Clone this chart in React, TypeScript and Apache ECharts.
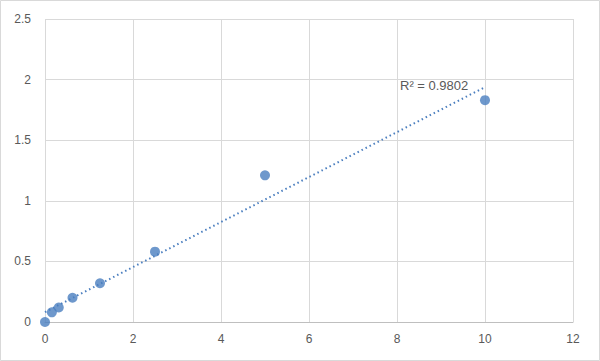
import React, { useEffect, useRef } from "react";
import * as echarts from "echarts";

const concentrations = [0, 0.156, 0.3125, 0.625, 1.25, 2.5, 5, 10];
const absorbances = [0, 0.08, 0.12, 0.2, 0.32, 0.58, 1.21, 1.83];
const xTicks = { min: 0, max: 12, interval: 2 };
const yTicks = { min: 0, max: 2.5, interval: 0.5 };
const rSquaredLabel = "R² = 0.9802";

function linearFit(xs: number[], ys: number[]) {
  const n = xs.length;
  const mx = xs.reduce((a, b) => a + b, 0) / n;
  const my = ys.reduce((a, b) => a + b, 0) / n;
  let sxy = 0;
  let sxx = 0;
  for (let i = 0; i < n; i++) {
    sxy += (xs[i] - mx) * (ys[i] - my);
    sxx += (xs[i] - mx) * (xs[i] - mx);
  }
  const slope = sxy / sxx;
  return { slope, intercept: my - slope * mx };
}

export default function App() {
  const ref = useRef<HTMLDivElement>(null);
  useEffect(() => {
    document.body.style.margin = "0";
    if (!ref.current) return;
    const chart = echarts.init(ref.current, undefined, { renderer: "svg" });
    const fit = linearFit(concentrations, absorbances);
    const xStart = concentrations[0];
    const xEnd = concentrations[concentrations.length - 1];
    const trend = [
      [xStart, fit.intercept + fit.slope * xStart],
      [xEnd, fit.intercept + fit.slope * xEnd],
    ];
    const color = "#4a7ebf";
    const labelStyle = { color: "#595959", fontSize: 12, fontFamily: "Liberation Sans" };
    chart.setOption({
      animation: false,
      backgroundColor: "#ffffff",
      grid: { left: 45, right: 27, top: 19, bottom: 39, containLabel: false },
      xAxis: {
        type: "value",
        min: xTicks.min,
        max: xTicks.max,
        interval: xTicks.interval,
        axisLine: { show: true, lineStyle: { color: "#bfbfbf", width: 1 } },
        axisTick: { show: false },
        axisLabel: { ...labelStyle, margin: 11 },
        splitLine: { show: true, lineStyle: { color: "#d9d9d9", width: 1 } },
      },
      yAxis: {
        type: "value",
        min: yTicks.min,
        max: yTicks.max,
        interval: yTicks.interval,
        axisLine: { show: false },
        axisTick: { show: false },
        axisLabel: { ...labelStyle, margin: 14 },
        splitLine: { show: true, lineStyle: { color: "#d9d9d9", width: 1 } },
      },
      graphic: [
        {
          type: "rect",
          shape: { x: 0.5, y: 0.5, width: 599, height: 360 },
          style: { fill: "none", stroke: "#d9d9d9", lineWidth: 1 },
          silent: true,
          z: 100,
        },
        {
          type: "text",
          left: 400,
          top: 79,
          style: { text: rSquaredLabel, fill: "#595959", fontSize: 13, fontFamily: "Liberation Sans" },
          z: 100,
        },
      ],
      series: [
        {
          type: "line",
          data: trend,
          showSymbol: false,
          symbol: "none",
          lineStyle: { color, width: 2, type: [1.5, 3] },
          z: 2,
        },
        {
          type: "scatter",
          data: concentrations.map((x, i) => [x, absorbances[i]]),
          symbol: "circle",
          symbolSize: 10,
          itemStyle: { color },
          z: 3,
        },
      ],
    });
    return () => chart.dispose();
  }, []);
  return <div ref={ref} style={{ width: 600, height: 361 }} />;
}
